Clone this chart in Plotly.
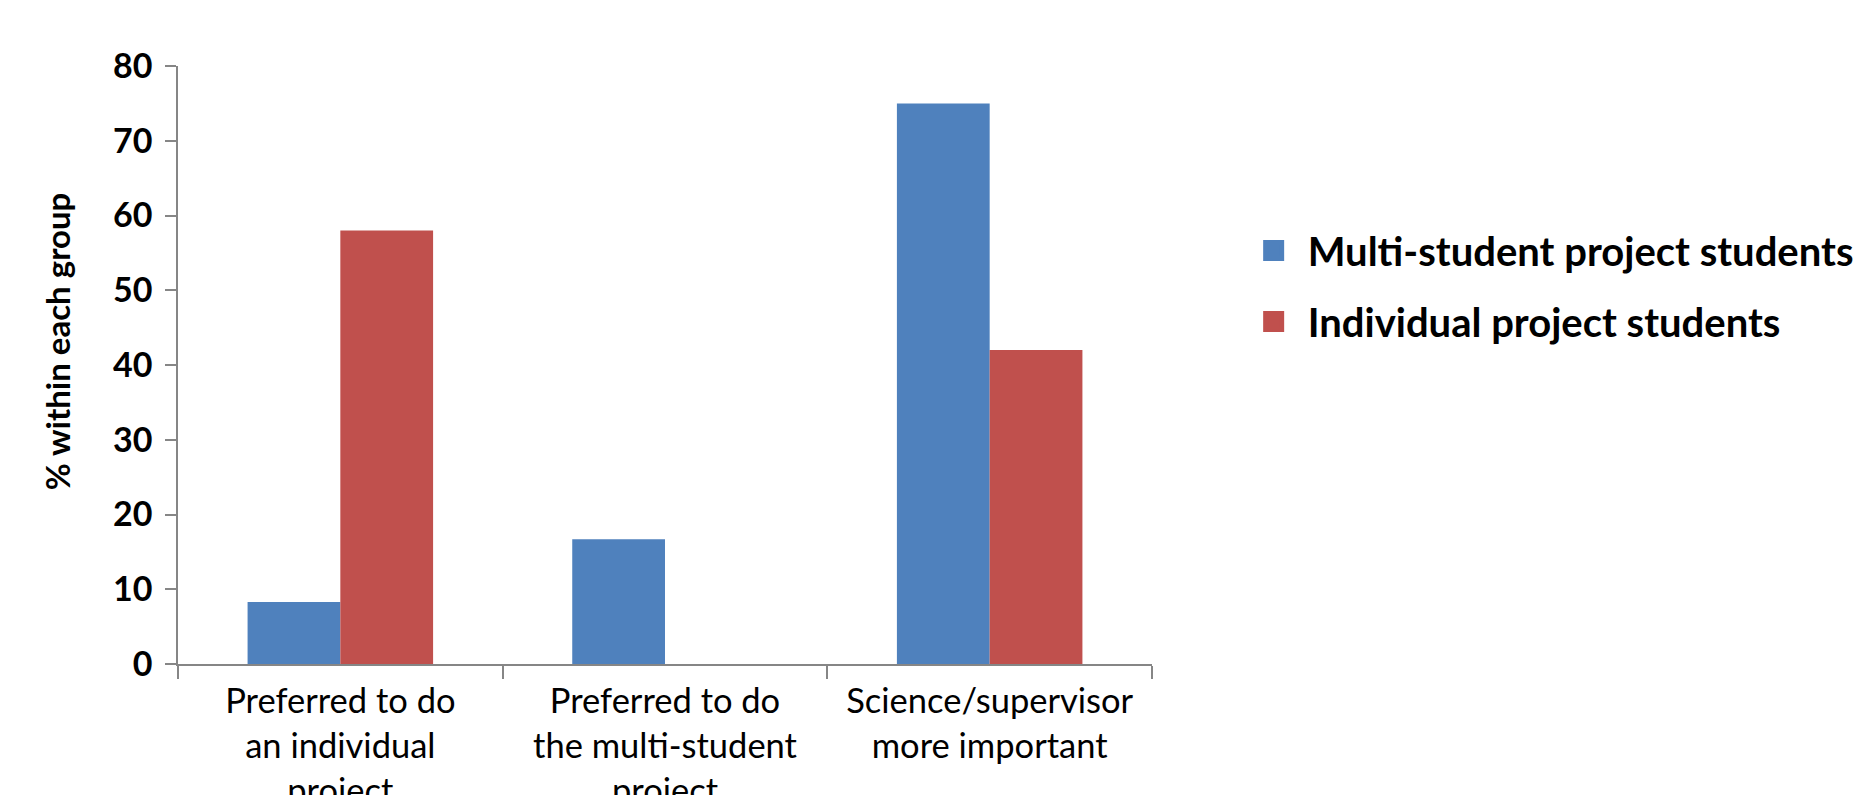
import plotly.graph_objects as go

categories = [
    "Preferred to do<br>an individual<br>project",
    "Preferred to do<br>the multi-student<br>project",
    "Science/supervisor<br>more important",
]
multi_student = [8.3, 16.7, 75.0]
individual = [58.0, 0.0, 42.0]
series_names = ["Multi-student project students", "Individual project students"]
y_ticks = [0, 10, 20, 30, 40, 50, 60, 70, 80]
y_title = "% within each group"

BLUE = "#4F81BD"
RED = "#C0504D"
FONT = "Lato, Calibri, Carlito, sans-serif"

fig = go.Figure()
fig.add_trace(go.Bar(x=categories, y=multi_student, name=series_names[0],
                     marker=dict(color=BLUE, line=dict(width=0)), showlegend=False,
                     legendgroup="a"))
fig.add_trace(go.Bar(x=categories, y=individual, name=series_names[1],
                     marker=dict(color=RED, line=dict(width=0)), showlegend=False,
                     legendgroup="b"))
# legend entries (larger square swatches, as in the reference)
for name, color, grp in [(series_names[0], BLUE, "a"), (series_names[1], RED, "b")]:
    fig.add_trace(go.Scatter(x=[None], y=[None], mode="markers", name=name, legendgroup=grp,
                             marker=dict(symbol="square", size=16, color=color,
                                         line=dict(color=color, width=5)),
                             hoverinfo="skip"))

fig.update_layout(
    width=1858, height=795,
    margin=dict(l=178, r=706, t=66, b=131, autoexpand=False),
    paper_bgcolor="white", plot_bgcolor="white",
    barmode="group", bargap=0.4286, bargroupgap=0,
    font=dict(family=FONT, color="black"),
    showlegend=True,
    legend=dict(x=1.090, y=0.632, xanchor="left", yanchor="middle",
                font=dict(size=40, family=FONT, weight="bold"),
                itemwidth=58, tracegroupgap=16, bgcolor="rgba(0,0,0,0)"),
    annotations=[dict(text=y_title, xref="paper", yref="paper", x=-0.124, y=0.54,
                      xanchor="center", yanchor="middle", textangle=-90, showarrow=False,
                      font=dict(size=33, family=FONT, weight="bold", color="black"))],
)
fig.update_xaxes(showline=True, linecolor="#868686", linewidth=1.5,
                 ticks="outside", tickson="boundaries", ticklen=13, tickcolor="#868686",
                 tickwidth=1.5, tickfont=dict(size=34.5, family=FONT), showgrid=False,
                 ticklabelstandoff=6)
fig.update_yaxes(range=[0, 80], tickvals=y_ticks, showline=True, linecolor="#868686",
                 linewidth=1.5, ticks="outside", ticklen=11, tickcolor="#868686", tickwidth=1.5,
                 tickfont=dict(size=34, family=FONT, weight="bold"), showgrid=False,
                 zeroline=False, ticklabelstandoff=6)

fig.write_html("out.html", config={"displayModeBar": False},
               post_script="document.body.style.margin='0';")
